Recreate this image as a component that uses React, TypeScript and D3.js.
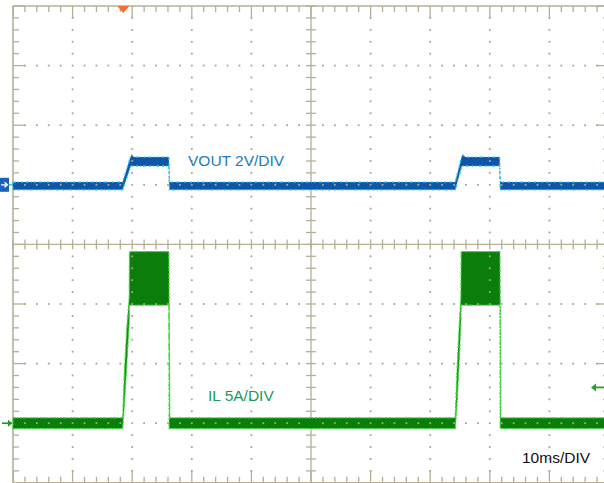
import React from "react";
import * as d3 from "d3";

// ---- Data (read from the scope capture) ----
// time axis: 10 ms/div, 10 divisions
const timeDomainMs = [0, 100];
const divisionsX = 10;
const divisionsY = 8;

// VOUT channel (2 V/div, ground at 3 div from top): envelope of the noisy trace
const voutTime = [0, 18.4, 19.75, 19.9, 20.3, 26.15, 26.25, 74.2, 75.3, 75.5, 75.9, 81.65, 81.75, 100];
const voutMin = [-0.17, -0.17, 0.62, 0.63, 0.63, 0.63, -0.17, -0.17, 0.62, 0.63, 0.63, 0.63, -0.17, -0.17];
const voutMax = [0.09, 0.09, 0.96, 1.0, 0.93, 0.93, 0.09, 0.09, 0.96, 1.0, 0.93, 0.93, 0.09, 0.09];

// IL channel (5 A/div, ground at 7 div from top): envelope incl. switching ripple
const ilTime = [0, 18.4, 18.7, 19.1, 19.5, 19.55, 26.15, 26.2, 26.3, 74.2, 74.5, 74.85, 75.15, 75.2, 81.7, 81.75, 81.85, 100];
const ilMin = [-0.45, -0.45, 1.6, 5.0, 8.4, 9.9, 9.9, -0.45, -0.45, -0.45, 1.6, 5.0, 8.4, 9.9, 9.9, -0.45, -0.45, -0.45];
const ilMax = [0.45, 0.45, 4.4, 8.0, 10.6, 14.4, 14.4, 10.0, 0.45, 0.45, 4.4, 8.0, 10.6, 14.4, 14.4, 10.0, 0.45, 0.45];

const triggerTimeMs = 18.5;
const triggerLevelA = 3;

const voutLabel = "VOUT 2V/DIV";
const ilLabel = "IL 5A/DIV";
const timeLabel = "10ms/DIV";

// ---- Styles ----
const FRAME = "#b4b097";
const DOT = "#a9a58b";
const FONT = "'Liberation Sans', Arial, sans-serif";

export default function App() {
  const W = 604;
  const H = 483;
  const left = 13;
  const top = 6;
  const div = 59.6;
  const right = left + divisionsX * div;
  const bottom = top + divisionsY * div;

  const x = d3.scaleLinear().domain(timeDomainMs).range([left, right]);
  const xDiv = d3.scaleLinear().domain([0, divisionsX]).range([left, right]);
  const yDiv = d3.scaleLinear().domain([0, divisionsY]).range([top, bottom]);
  const yV = d3.scaleLinear().domain([6, -10]).range([top, bottom]);
  const yA = d3.scaleLinear().domain([35, -5]).range([top, bottom]);

  const minorX = d3.range(0, divisionsX * 5 + 1).map((i) => i / 5);
  const minorY = d3.range(0, divisionsY * 5 + 1).map((i) => i / 5);

  const voutArea = d3
    .area<number>()
    .x((i) => x(voutTime[i]))
    .y0((i) => yV(voutMin[i]))
    .y1((i) => yV(voutMax[i]))(d3.range(voutTime.length));
  const ilArea = d3
    .area<number>()
    .x((i) => x(ilTime[i]))
    .y0((i) => yA(ilMin[i]))
    .y1((i) => yA(ilMax[i]))(d3.range(ilTime.length));

  const cx = xDiv(divisionsX / 2);
  const cy = yDiv(divisionsY / 2);

  const gridDots: JSX.Element[] = [];
  d3.range(1, divisionsX).forEach((i) => {
    if (i === divisionsX / 2) return;
    minorY.forEach((m, k) => {
      if (m % 1 === 0) return;
      gridDots.push(
        <rect key={`vx${i}-${k}`} x={xDiv(i) - 0.9} y={yDiv(m) - 0.9} width={1.8} height={1.8} fill={DOT} />
      );
    });
  });
  d3.range(1, divisionsY).forEach((j) => {
    if (j === divisionsY / 2) return;
    minorX.forEach((m, k) => {
      if (m === 0 || m === divisionsX / 2) return;
      gridDots.push(
        <rect key={`hy${j}-${k}`} x={xDiv(m) - 0.9} y={yDiv(j) - 0.9} width={1.8} height={1.8} fill={DOT} />
      );
    });
  });

  const ticks: JSX.Element[] = [];
  minorX.forEach((m, k) => {
    const major = Math.abs(m - Math.round(m)) < 1e-6;
    const len = major ? 12 : 6;
    const px = xDiv(m);
    ticks.push(<line key={`tt${k}`} x1={px} x2={px} y1={top} y2={top + len} />);
    ticks.push(<line key={`tb${k}`} x1={px} x2={px} y1={bottom} y2={bottom - len} />);
    ticks.push(<line key={`tc${k}`} x1={px} x2={px} y1={cy - 5} y2={cy + 5} />);
  });
  minorY.forEach((m, k) => {
    const major = Math.abs(m - Math.round(m)) < 1e-6;
    const len = major ? 12 : 6;
    const py = yDiv(m);
    ticks.push(<line key={`tl${k}`} x1={left} x2={left + len} y1={py} y2={py} />);
    ticks.push(<line key={`tr${k}`} x1={right} x2={right - len} y1={py} y2={py} />);
    ticks.push(<line key={`tm${k}`} x1={cx - 5} x2={cx + 5} y1={py} y2={py} />);
  });

  const trigX = x(triggerTimeMs);
  const v0 = yV(0);
  const a0 = yA(0);
  const aTrig = yA(triggerLevelA);

  return (
    <div style={{ position: "fixed", left: 0, top: 0, width: W, height: H, background: "#fff" }}>
      <svg width={W} height={H} viewBox={`0 0 ${W} ${H}`} style={{ display: "block" }}>
        <rect x={0} y={0} width={W} height={H} fill="#fff" />
        {/* frame */}
        <g stroke={FRAME} strokeWidth={1.6} fill="none">
          <line x1={left} x2={right} y1={top} y2={top} />
          <line x1={left} x2={right} y1={bottom} y2={bottom} />
          <line x1={left} x2={left} y1={top} y2={bottom} />
          <line x1={right} x2={right} y1={top} y2={bottom} />
          <line x1={cx} x2={cx} y1={top} y2={bottom} strokeWidth={1.3} />
          <line x1={left} x2={right} y1={cy} y2={cy} strokeWidth={1.3} />
        </g>
        <g stroke={FRAME} strokeWidth={1.3}>{ticks}</g>

        {/* traces */}
        <path d={voutArea ?? ""} fill="#0f56aa" stroke="#2cc0e2" strokeWidth={1.4} strokeDasharray="3 2 1 2 2 3" />
        <path d={ilArea ?? ""} fill="#0b7d0b" stroke="#3ed43e" strokeWidth={1.3} strokeDasharray="3 1 1 2 2 1" />

        <g>{gridDots}</g>

        {/* trigger position marker */}
        <path d={`M${trigX - 6},${top} L${trigX + 6},${top} L${trigX},${top + 7} Z`} fill="#ff6a24" />

        {/* channel markers */}
        <rect x={0} y={v0 - 7} width={9} height={14} fill="#1a62b8" />
        <path d={`M1,${v0} L7,${v0} M4.5,${v0 - 2.5} L7.5,${v0} L4.5,${v0 + 2.5}`} stroke="#fff" strokeWidth={1.3} fill="none" />
        <line x1={9} x2={13} y1={v0} y2={v0} stroke="#2cc0e2" strokeWidth={1.5} />
        <path d={`M2,${a0} L12,${a0}`} stroke="#1f9a1f" strokeWidth={1.6} />
        <path d={`M8,${a0 - 3.5} L12,${a0} L8,${a0 + 3.5} Z`} fill="#1f9a1f" />
        <path d={`M${W},${aTrig} L${W - 10},${aTrig}`} stroke="#2aa02a" strokeWidth={1.8} />
        <path d={`M${W - 8},${aTrig - 4} L${W - 13},${aTrig} L${W - 8},${aTrig + 4} Z`} fill="#2aa02a" />

        {/* labels */}
        <text x={188} y={166} fontFamily={FONT} fontSize={15.5} fill="#2279c4">{voutLabel}</text>
        <text x={208} y={401} fontFamily={FONT} fontSize={15.5} fill="#1b9a58">{ilLabel}</text>
        <text x={522} y={463} fontFamily={FONT} fontSize={15.5} fill="#111">{timeLabel}</text>
      </svg>
    </div>
  );
}
